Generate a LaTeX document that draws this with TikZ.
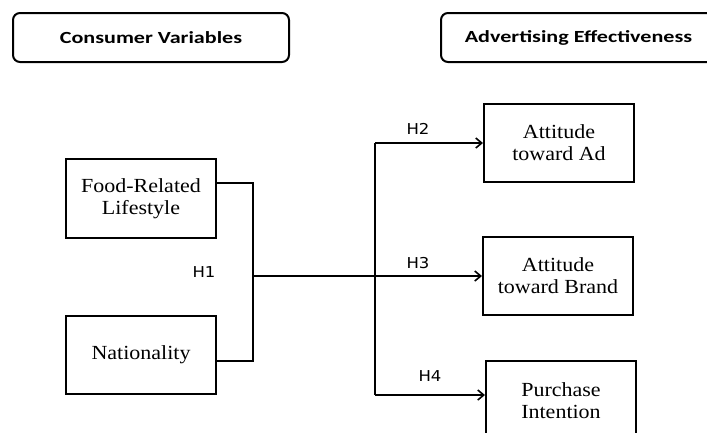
\documentclass[tikz,border=0pt]{standalone}
\usepackage{fontspec}
\usetikzlibrary{arrows.meta}
\newfontfamily\hdrfont[FakeStretch=1.3]{Carlito}
\newfontfamily\boxfont[FakeStretch=1.1]{Liberation Serif}
\newfontfamily\hfont[FakeStretch=1.1]{DejaVu Sans}
\tikzset{
  hdrbox/.style={draw, line width=2pt, rounded corners=7pt, inner sep=0pt,
    font=\hdrfont\bfseries\fontsize{17}{20}\selectfont},
  varbox/.style={draw, line width=2pt, inner sep=0pt, align=center,
    font=\boxfont\fontsize{20}{22}\selectfont},
  hlabel/.style={inner sep=0pt, font=\hfont\fontsize{15}{17}\selectfont},
  conn/.style={line width=1.8pt},
  arr/.style={line width=1.8pt, -{Straight Barb[length=6pt,width=10pt,line width=1.6pt]}}
}
\begin{document}
\begin{tikzpicture}[x=1pt,y=-1pt]
\useasboundingbox (0,0) rectangle (707,432);
\clip (0,0) rectangle (707,432);
% header boxes
\node[hdrbox, minimum width=276pt, minimum height=49pt] (cv) at (151,37.5) {Consumer Variables};
\node[hdrbox, minimum width=279pt, minimum height=49pt] (ae) at (580.5,37.5) {};
\node[inner sep=0pt, font=\hdrfont\bfseries\fontsize{17}{20}\selectfont] (aet) at (578.5,38) {Advertising Effectiveness};
% left boxes
\node[varbox, minimum width=150pt, minimum height=79pt] (food) at (141,198.5) {Food-Related\\Lifestyle};
\node[varbox, minimum width=150pt, minimum height=78pt] (nat) at (141,355) {Nationality};
% right boxes
\node[varbox, minimum width=150pt, minimum height=78pt] (ad) at (559,143) {Attitude\\toward Ad};
\node[varbox, minimum width=150pt, minimum height=78pt] (brand) at (558,276) {Attitude\\toward Brand};
\node[varbox, minimum width=150pt, minimum height=80pt] (pi) at (561,401) {Purchase\\Intention};
% junction coordinates
\coordinate (j1) at (253,276);
\coordinate (vt) at (375,143);
\coordinate (vb) at (375,395);
% bracket
\draw[conn] (food.east |- 0,183) -| (j1) |- (nat.east |- 0,361);
% vertical line
\draw[conn] (vt) -- (vb);
% arrows
\draw[arr] (vt) -- (ad.west |- vt);
\draw[arr] (j1) -- (brand.west);
\draw[arr] (vb) -- (pi.west |- vb);
% labels
\node[hlabel] (h1) at (204,272) {H1};
\node[hlabel] (h2) at (418,129) {H2};
\node[hlabel] (h3) at (418,263) {H3};
\node[hlabel] (h4) at (430,376) {H4};
\end{tikzpicture}
\end{document}
